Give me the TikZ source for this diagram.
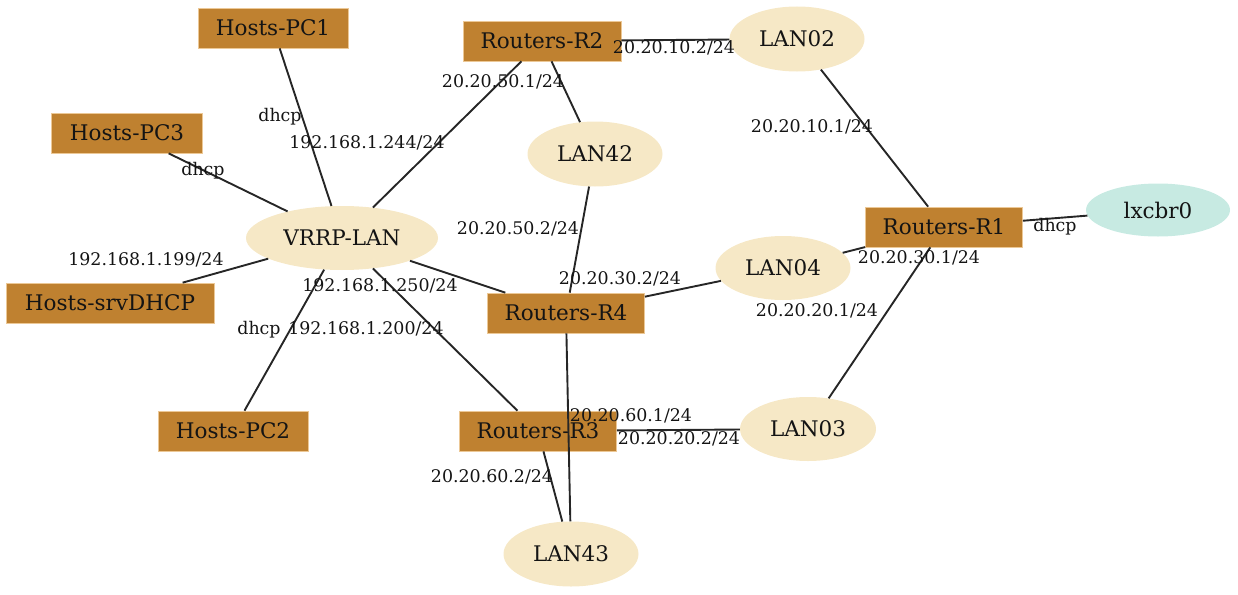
\documentclass[tikz,border=0pt]{standalone}
\usepackage{fontspec}
\setmainfont{DejaVu Serif}
\usetikzlibrary{shapes.geometric}

\begin{document}
\begin{tikzpicture}[x=1pt,y=-1pt,
        hostbox/.style={rectangle,fill=ccaja,draw=cborde,line width=0.7pt,inner sep=0pt,
            minimum width=150pt,minimum height=40pt,text=ctexto,font=\fontsize{21.5}{24}\selectfont},
        routerbox/.style={hostbox,minimum width=157pt},
        lanell/.style={ellipse,fill=clan,inner sep=0pt,minimum width=135pt,minimum height=65pt,
            text=ctexto,font=\fontsize{21.5}{24}\selectfont},
        bridgeell/.style={lanell,fill=cpuente,minimum width=144pt,minimum height=53pt},
        wire/.style={draw=clinea,line width=1.9pt},
        iplabel/.style={inner sep=0pt,text=ctexto,font=\fontsize{17.4}{20}\selectfont}]
        %colores
        \definecolor{ccaja}{RGB}{191,129,48}
        \definecolor{cborde}{RGB}{236,200,150}
        \definecolor{clan}{RGB}{246,232,198}
        \definecolor{cpuente}{RGB}{199,234,226}
        \definecolor{clinea}{RGB}{38,38,38}
        \definecolor{ctexto}{RGB}{20,20,20}

        \useasboundingbox (0,0) rectangle (1238,594);

        % Hosts
        \node[hostbox] (pc1) at (273,28) {Hosts-PC1};
        \node[hostbox,minimum width=151pt] (pc3) at (127,133) {Hosts-PC3};
        \node[hostbox,minimum width=208pt] (srvdhcp) at (110,303) {Hosts-srvDHCP};
        \node[hostbox] (pc2) at (233,431) {Hosts-PC2};

        % Routers
        \node[routerbox,minimum width=158pt] (r2) at (542,41) {Routers-R2};
        \node[routerbox] (r1) at (944,227) {Routers-R1};
        \node[routerbox] (r4) at (566,313) {Routers-R4};
        \node[routerbox] (r3) at (538,431) {Routers-R3};

        % Redes
        \node[lanell,minimum width=192pt,minimum height=64pt] (vrrp) at (342,238) {VRRP-LAN};
        \node[lanell] (lan02) at (797,39) {LAN02};
        \node[lanell] (lan42) at (595,154) {LAN42};
        \node[lanell,minimum height=64pt] (lan04) at (783,268) {LAN04};
        \node[lanell,minimum width=136pt,minimum height=64pt] (lan03) at (808,429) {LAN03};
        \node[lanell] (lan43) at (571,554) {LAN43};
        \node[bridgeell] (lxcbr) at (1158,210) {lxcbr0};

        % Enlaces
        \foreach \a/\b in {pc1/vrrp, pc3/vrrp, srvdhcp/vrrp, pc2/vrrp, vrrp/r2, vrrp/r4, vrrp/r3,
            r2/lan02, r2/lan42, lan42/r4, r4/lan04, lan04/r1, lan02/r1, r1/lxcbr, r1/lan03,
            r4/lan43, r3/lan03, r3/lan43}
            \draw[wire] (\a) -- (\b);

        % Direcciones
        \foreach \x/\y/\t [count=\i] in {280/117/dhcp, 367/143/{192.168.1.244/24}, 503/82/{20.20.50.1/24},
            674/48/{20.20.10.2/24}, 203/171/dhcp, 812/127/{20.20.10.1/24}, 518/229/{20.20.50.2/24},
            146/260/{192.168.1.199/24}, 1055/227/dhcp, 919/258/{20.20.30.1/24}, 620/279/{20.20.30.2/24},
            380/286/{192.168.1.250/24}, 817/311/{20.20.20.1/24}, 259/330/dhcp, 366/329/{192.168.1.200/24},
            631/416/{20.20.60.1/24}, 679/439/{20.20.20.2/24}, 492/477/{20.20.60.2/24}}
            \node[iplabel] (ip\i) at (\x,\y) {\t};
    \end{tikzpicture}
\end{document}
